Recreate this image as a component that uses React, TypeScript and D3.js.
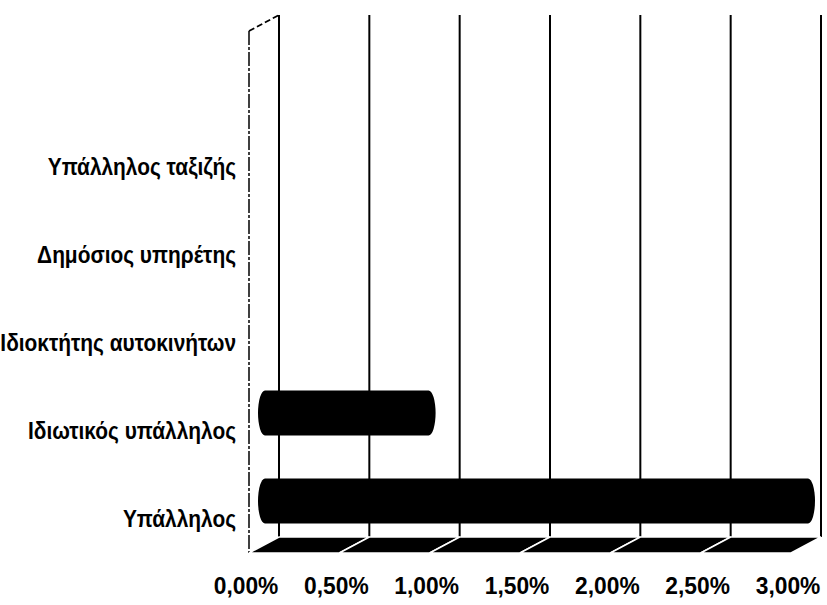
import React from "react";
import * as d3 from "d3";

const categories = [
  "Υπάλληλος ταξιζής",
  "Δημόσιος υπηρέτης",
  "Ιδιοκτήτης αυτοκινήτων",
  "Ιδιωτικός υπάλληλος",
  "Υπάλληλος",
];
const values = [0, 0, 0, 0.9, 3.0];
const tickValues = [0, 0.5, 1, 1.5, 2, 2.5, 3];
const tickLabels = ["0,00%", "0,50%", "1,00%", "1,50%", "2,00%", "2,50%", "3,00%"];

const W = 827;
const H = 605;
const DX = 30;
const DY = -16;
const FONT = "'Liberation Sans Narrow', 'Arial Narrow', 'Liberation Sans', Arial, sans-serif";

export default function App() {
  const xFront = d3.scaleLinear().domain([0, 3]).range([249, 791]);
  const xBack = (v: number) => xFront(v) + DX;
  const xMid = (v: number) => xFront(v) + DX / 2;
  const wallTop = 15;
  const floorBack = 537;
  const floorFront = floorBack - DY;

  const y = d3.scaleBand<string>().domain(categories).range([105, 545]).paddingInner(0.49).paddingOuter(0.245);
  const bh = 45;

  const capR = 7;
  const barPath = (v: number, cy: number) => {
    const x0 = xMid(0) - capR + 1;
    const x1 = xMid(v) + capR + 2;
    const t = cy - bh / 2;
    const b = cy + bh / 2;
    return `M${x0 + capR},${t} L${x1 - capR},${t} A${capR},${bh / 2} 0 0 1 ${x1 - capR},${b} L${x0 + capR},${b} A${capR},${bh / 2} 0 0 1 ${x0 + capR},${t} Z`;
  };

  return (
    <div style={{ position: "fixed", left: 0, top: 0, background: "#fff" }}>
      <svg width={W} height={H} viewBox={`0 0 ${W} ${H}`} style={{ display: "block" }}>
        <rect width={W} height={H} fill="#fff" />
        {/* back wall gridlines */}
        {tickValues.map((t, i) => (
          <line key={"g" + i} x1={xBack(t)} x2={xBack(t)} y1={wallTop} y2={floorBack} stroke="#000" strokeWidth={2} />
        ))}
        {/* side wall */}
        <line x1={xFront(0)} x2={xFront(0)} y1={wallTop - DY} y2={floorFront} stroke="#000" strokeWidth={1.5} strokeDasharray="14 2 3 2" />
        <line x1={xFront(0)} x2={xBack(0)} y1={wallTop - DY} y2={wallTop} stroke="#000" strokeWidth={1.8} strokeDasharray="6 3" />
        {/* floor */}
        {tickValues.slice(0, -1).map((t, i) => {
          const t2 = tickValues[i + 1];
          const pts = [
            [xFront(t), floorFront],
            [xFront(t2), floorFront],
            [xBack(t2), floorBack],
            [xBack(t), floorBack],
          ];
          return (
            <polygon key={"f" + i} points={pts.map((p) => p.join(",")).join(" ")} fill="#000" stroke="#fff" strokeWidth={1.5} />
          );
        })}
        {/* bars */}
        {categories.map((c, i) =>
          values[i] > 0 ? (
            <path key={"b" + i} d={barPath(values[i], (y(c) as number) + y.bandwidth() / 2)} fill="#000" />
          ) : null
        )}
        {/* category labels */}
        {categories.map((c, i) => (
          <text
            key={"c" + i}
            transform={`translate(236,${(y(c) as number) + y.bandwidth() / 2 + 26}) scale(0.87,1)`}
            textAnchor="end"
            fontFamily={FONT}
            fontWeight="bold"
            fontSize={24}
            fill="#000"
          >
            {c}
          </text>
        ))}
        {/* tick labels */}
        {tickValues.map((t, i) => (
          <text
            key={"t" + i}
            transform={`translate(${xFront(t) - 3},594) scale(0.95,1)`}
            textAnchor="middle"
            fontFamily={FONT}
            fontWeight="bold"
            fontSize={24}
            fill="#000"
          >
            {tickLabels[i]}
          </text>
        ))}
      </svg>
    </div>
  );
}
